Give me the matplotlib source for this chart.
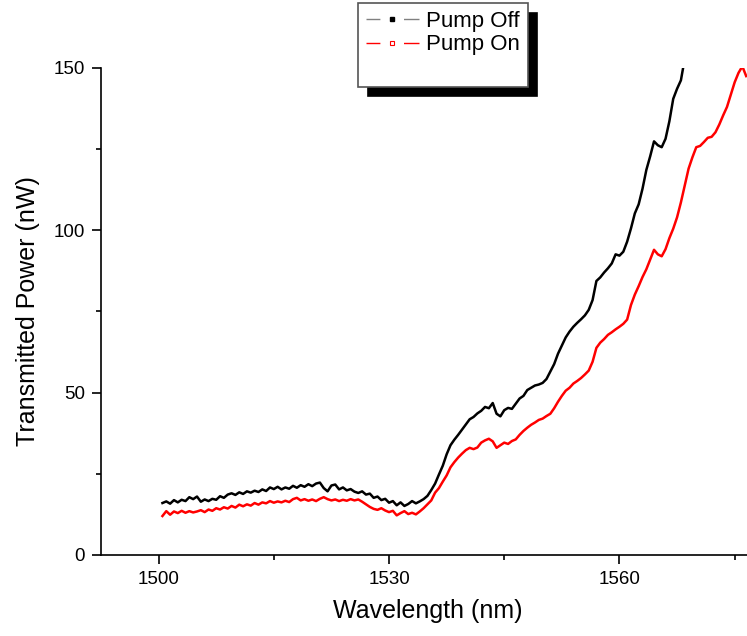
import matplotlib
matplotlib.use('Agg')
import matplotlib.pyplot as plt
import matplotlib.ticker as ticker
from matplotlib.lines import Line2D

plt.rcParams['font.family'] = ['Liberation Sans', 'DejaVu Sans']

# Pump Off trace (black)
wl_off = [1500.5, 1501, 1501.5, 1502, 1502.5, 1503, 1503.5, 1504, 1504.5, 1505,
          1505.5, 1506, 1506.5, 1507, 1507.5, 1508, 1508.5, 1509, 1509.5, 1510,
          1510.5, 1511, 1511.5, 1512, 1512.5, 1513, 1513.5, 1514, 1514.5, 1515,
          1515.5, 1516, 1516.5, 1517, 1517.5, 1518, 1518.5, 1519, 1519.5, 1520,
          1520.5, 1521, 1521.5, 1522, 1522.5, 1523, 1523.5, 1524, 1524.5, 1525,
          1525.5, 1526, 1526.5, 1527, 1527.5, 1528, 1528.5, 1529, 1529.5, 1530,
          1530.5, 1531, 1531.5, 1532, 1532.5, 1533, 1533.5, 1534, 1534.5, 1535,
          1535.5, 1536, 1536.5, 1537, 1537.5, 1538, 1538.5, 1539, 1539.5, 1540,
          1540.5, 1541, 1541.5, 1542, 1542.5, 1543, 1543.5, 1544, 1544.5, 1545,
          1545.5, 1546, 1546.5, 1547, 1547.5, 1548, 1548.5, 1549, 1549.5, 1550,
          1550.5, 1551, 1551.5, 1552, 1552.5, 1553, 1553.5, 1554, 1554.5, 1555,
          1555.5, 1556, 1556.5, 1557, 1557.5, 1558, 1558.5, 1559, 1559.5, 1560,
          1560.5, 1561, 1561.5, 1562, 1562.5, 1563, 1563.5, 1564, 1564.5, 1565,
          1565.5, 1566, 1566.5, 1567, 1567.5, 1568, 1568.3]
pw_off = [16.0, 16.5, 15.8, 16.9, 16.2, 17.0, 16.6, 17.8, 17.2, 18.0,
          16.4, 17.1, 16.6, 17.3, 17.0, 18.1, 17.6, 18.6, 19.0, 18.5,
          19.3, 18.8, 19.6, 19.2, 19.8, 19.4, 20.2, 19.7, 20.8, 20.3,
          21.0, 20.2, 20.8, 20.4, 21.3, 20.7, 21.5, 21.0, 21.8, 21.2,
          22.0, 22.3, 20.6, 19.6, 21.4, 21.7, 20.2, 20.8, 19.9, 20.3,
          19.5, 19.1, 19.6, 18.6, 18.9, 17.6, 18.0, 16.9, 17.3, 16.1,
          16.6, 15.3, 16.2, 15.1, 15.7, 16.6, 15.9, 16.5, 17.2, 18.2,
          20.0, 22.0, 24.8, 27.5, 31.0, 33.8, 35.5, 37.0, 38.6, 40.2,
          41.8, 42.5, 43.6, 44.4, 45.6, 45.2, 46.8, 43.5, 42.7, 44.6,
          45.3, 45.0, 46.6, 48.2, 49.0, 50.8, 51.5, 52.2, 52.5, 53.0,
          54.2, 56.5, 58.8, 62.0, 64.5, 67.0, 68.8, 70.3, 71.5, 72.6,
          73.8, 75.5, 78.5, 84.4, 85.5, 87.0, 88.3, 89.8, 92.6, 92.2,
          93.4, 96.5, 100.6, 105.2, 108.0, 112.8, 118.6, 122.8, 127.4, 126.2,
          125.6, 128.2, 133.6, 140.5, 143.6, 146.2, 150.2]

# Pump On trace (red)
wl_on = [1500.5, 1501, 1501.5, 1502, 1502.5, 1503, 1503.5, 1504, 1504.5, 1505,
         1505.5, 1506, 1506.5, 1507, 1507.5, 1508, 1508.5, 1509, 1509.5, 1510,
         1510.5, 1511, 1511.5, 1512, 1512.5, 1513, 1513.5, 1514, 1514.5, 1515,
         1515.5, 1516, 1516.5, 1517, 1517.5, 1518, 1518.5, 1519, 1519.5, 1520,
         1520.5, 1521, 1521.5, 1522, 1522.5, 1523, 1523.5, 1524, 1524.5, 1525,
         1525.5, 1526, 1526.5, 1527, 1527.5, 1528, 1528.5, 1529, 1529.5, 1530,
         1530.5, 1531, 1531.5, 1532, 1532.5, 1533, 1533.5, 1534, 1534.5, 1535,
         1535.5, 1536, 1536.5, 1537, 1537.5, 1538, 1538.5, 1539, 1539.5, 1540,
         1540.5, 1541, 1541.5, 1542, 1542.5, 1543, 1543.5, 1544, 1544.5, 1545,
         1545.5, 1546, 1546.5, 1547, 1547.5, 1548, 1548.5, 1549, 1549.5, 1550,
         1550.5, 1551, 1551.5, 1552, 1552.5, 1553, 1553.5, 1554, 1554.5, 1555,
         1555.5, 1556, 1556.5, 1557, 1557.5, 1558, 1558.5, 1559, 1559.5, 1560,
         1560.5, 1561, 1561.5, 1562, 1562.5, 1563, 1563.5, 1564, 1564.5, 1565,
         1565.5, 1566, 1566.5, 1567, 1567.5, 1568, 1568.5, 1569, 1569.5, 1570,
         1570.5, 1571, 1571.5, 1572, 1572.5, 1573, 1573.5, 1574, 1574.5, 1575,
         1575.5, 1576, 1576.5]
pw_on = [12.0, 13.5, 12.4, 13.4, 12.9, 13.6, 13.0, 13.5, 13.1, 13.4,
         13.8, 13.2, 14.0, 13.6, 14.4, 14.0, 14.7, 14.3, 15.1, 14.6,
         15.5, 15.0, 15.6, 15.2, 16.0, 15.5, 16.2, 15.9, 16.6, 16.1,
         16.5, 16.2, 16.7, 16.3, 17.2, 17.6, 16.8, 17.2, 16.7, 17.1,
         16.6, 17.3, 17.8, 17.2, 16.8, 17.1, 16.6, 17.0, 16.7, 17.2,
         16.8, 17.1, 16.4, 15.6, 14.8, 14.2, 13.9, 14.4, 13.7, 13.2,
         13.6, 12.2, 12.9, 13.5, 12.6, 13.0, 12.5, 13.4, 14.4, 15.6,
         16.8, 19.2, 20.6, 22.6, 24.5, 27.0, 28.6, 30.0, 31.2, 32.3,
         33.0, 32.6, 33.1, 34.6, 35.3, 35.8, 35.0, 33.0, 33.8, 34.6,
         34.2, 35.1, 35.6, 37.0, 38.2, 39.2, 40.1, 40.8, 41.6, 42.0,
         42.8, 43.5, 45.2, 47.2, 49.0, 50.6, 51.5, 52.8, 53.6, 54.5,
         55.6, 56.8, 59.5, 63.8, 65.4, 66.5, 67.8, 68.6, 69.5, 70.3,
         71.2, 72.5, 77.0, 80.2, 82.8, 85.6, 88.0, 91.0, 94.0, 92.6,
         92.0, 94.2, 97.6, 100.5, 104.0, 108.6, 113.8, 119.0, 122.5, 125.6,
         126.0, 127.2, 128.5, 128.8, 130.2, 132.6, 135.4, 138.0, 141.8, 145.6,
         148.5, 150.5, 147.5]

labels = ['Pump Off', 'Pump On']

fig = plt.figure(figsize=(7.47, 6.36), dpi=100)
ax = fig.add_axes([0.1352, 0.1274, 0.874, 0.7657])

ax.plot(wl_off, pw_off, color='black', lw=1.8)
ax.plot(wl_on, pw_on, color='red', lw=1.8)

ax.set_xlim(1492.5, 1577.5)
ax.set_ylim(0, 150)
ax.spines['top'].set_visible(False)
ax.spines['right'].set_visible(False)
for s in ('left', 'bottom'):
    ax.spines[s].set_linewidth(1.2)

ax.xaxis.set_major_locator(ticker.MultipleLocator(30))
ax.xaxis.set_minor_locator(ticker.MultipleLocator(15))
ax.yaxis.set_major_locator(ticker.MultipleLocator(50))
ax.yaxis.set_minor_locator(ticker.MultipleLocator(25))
ax.tick_params(which='major', direction='out', length=6.5, width=1.2,
               labelsize=13.5, pad=5)
ax.tick_params(which='minor', direction='out', length=3.5, width=1.2)

ax.set_xlabel('Wavelength (nm)', fontsize=18, labelpad=8)
ax.set_ylabel('Transmitted Power (nW)', fontsize=18, labelpad=10)

# legend proxies: line broken around the symbol, as Origin draws it
h_off = Line2D([], [], color='gray', lw=1, dashes=(10, 17, 14, 60),
               marker='s', markersize=3.5, markerfacecolor='black',
               markeredgecolor='black')
h_on = Line2D([], [], color='red', lw=1, dashes=(10, 17, 14, 60),
              marker='s', markersize=3.5, markerfacecolor='white',
              markeredgecolor='red', markeredgewidth=0.8)
h_blank = Line2D([], [], color='none')
leg = fig.legend([h_off, h_on, h_blank], labels + [' '],
                 loc='upper left', bbox_to_anchor=(0.479, 0.995),
                 borderaxespad=0, fontsize=16, frameon=True, fancybox=False,
                 handlelength=2.4, handletextpad=0.3, borderpad=0.36,
                 labelspacing=0.1,
                 shadow={'ox': 7, 'oy': -7, 'facecolor': 'black',
                         'edgecolor': 'black', 'alpha': 1})
leg.get_frame().set_edgecolor('#555555')
leg.get_frame().set_linewidth(1.2)
leg.get_frame().set_alpha(1)

fig.savefig('out.png', dpi=100)
